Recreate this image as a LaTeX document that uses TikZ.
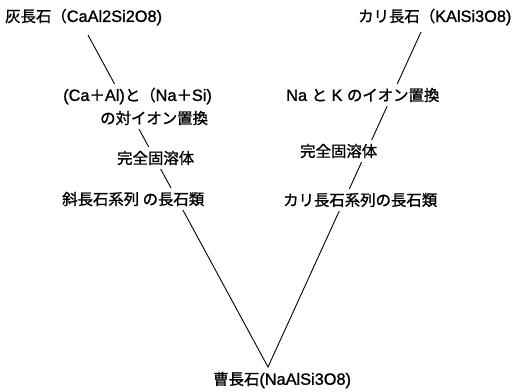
\documentclass[tikz,border=0pt]{standalone}
\usepackage{fontspec}
\setmainfont{Liberation Sans}[FakeBold=1.2, Scale=1.06]
\newfontfamily\jp{Noto Sans CJK JP}[FakeBold=1.2]
\begin{document}
\begin{tikzpicture}[x=1pt,y=-1pt,
  lbl/.style={font=\fontsize{15.4}{18}\selectfont, anchor=west, fill=white, inner xsep=1pt, inner ysep=4pt},
  edge/.style={draw=black, line width=0.9pt}]
\useasboundingbox (0,0) rectangle (514,391);
% connector end points
\coordinate (A) at (88,35);
\coordinate (K) at (421,32);
\coordinate (V) at (268,367);
\draw[edge, line join=miter] (A) -- (V) -- (K);
% labels (white fill interrupts the lines)
\node[lbl] (an) at (4,17) {{\jp 灰長石（}CaAl2Si2O8)};
\node[lbl] (ka) at (357,17) {{\jp カリ長石（}KAlSi3O8)};
\node[lbl] (s1) at (62,96) {(Ca{\jp ＋}Al){\jp と（}Na{\jp ＋}Si)};
\node[lbl] (s2) at (99,118) {\jp の対イオン置換};
\node[lbl] (ss1) at (116,158) {\jp 完全固溶体};
\node[lbl] (pl) at (61,199) {\jp 斜長石系列 の長石類};
\node[lbl] (nk) at (285,95) {Na {\jp と} K {\jp のイオン置換}};
\node[lbl] (ss2) at (299,151) {\jp 完全固溶体};
\node[lbl] (kf) at (282,200) {\jp カリ長石系列の長石類};
\node[lbl, fill=none] (ab) at (212,380) {{\jp 曹長石}(NaAlSi3O8)};
\end{tikzpicture}
\end{document}
